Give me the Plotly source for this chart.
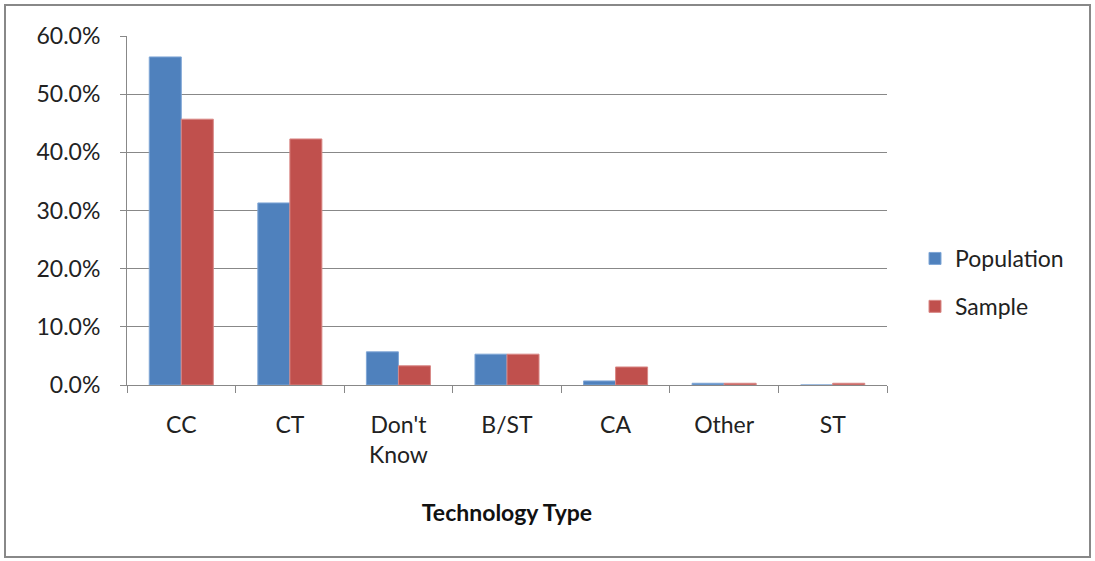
import plotly.graph_objects as go

categories = ["CC", "CT", "Don't<br>Know", "B/ST", "CA", "Other", "ST"]
population = [0.564, 0.313, 0.057, 0.053, 0.007, 0.003, 0.0]
sample = [0.457, 0.423, 0.033, 0.053, 0.031, 0.003, 0.003]
y_ticks = [0, 0.1, 0.2, 0.3, 0.4, 0.5, 0.6]

W, H = 1095, 561
L, R, T, B = 127, 887, 36, 385

font = "Lato, 'Open Sans', sans-serif"

fig = go.Figure()
fig.add_trace(go.Bar(x=categories, y=population, name="Population",
                     marker=dict(color="#4F81BD", line=dict(color="#7FA6D6", width=1)),
                     legendgroup="a"))
fig.add_trace(go.Bar(x=categories, y=sample, name="Sample",
                     marker=dict(color="#C0504D", line=dict(color="#D98886", width=1)),
                     legendgroup="b"))

def px_x(p):
    return (p - L) / (R - L)

def px_y(p):
    return (B - p) / (B - T)

fig.add_shape(type="rect", xref="paper", yref="paper",
              x0=px_x(5), x1=px_x(1090), y0=px_y(557), y1=px_y(5),
              line=dict(color="#888888", width=2), layer="below")

fig.update_layout(
    width=W, height=H,
    margin=dict(l=L, r=W - R, t=T, b=H - B, pad=0, autoexpand=False),
    paper_bgcolor="white", plot_bgcolor="white",
    barmode="group", bargap=0.41, bargroupgap=0,
    font=dict(family=font, size=23, color="#222222"),
    showlegend=True,
    legend=dict(x=px_x(915), y=px_y(237), xanchor="left", yanchor="top",
                font=dict(size=23), tracegroupgap=15, traceorder="grouped",
                itemwidth=30),
    xaxis=dict(showline=True, linecolor="#888888", linewidth=1,
               ticks="outside", tickson="boundaries", ticklen=7,
               tickcolor="#888888", showgrid=False, automargin=False,
               ticklabelstandoff=19,
               title=dict(text="<b>Technology Type</b>", font=dict(size=23, color="#111111"),
                          standoff=38),
               tickfont=dict(size=23)),
    yaxis=dict(range=[0, 0.6], tickvals=y_ticks, tickformat=".1%",
               showline=True, linecolor="#888888", linewidth=1,
               ticks="outside", ticklen=6, tickcolor="#888888",
               showgrid=True, gridcolor="#888888", gridwidth=1,
               zeroline=False, ticklabelstandoff=15, automargin=False,
               tickfont=dict(size=23)),
)

fig.write_html("out.html", config={"displayModeBar": False},
               post_script="document.body.style.margin='0px';")
